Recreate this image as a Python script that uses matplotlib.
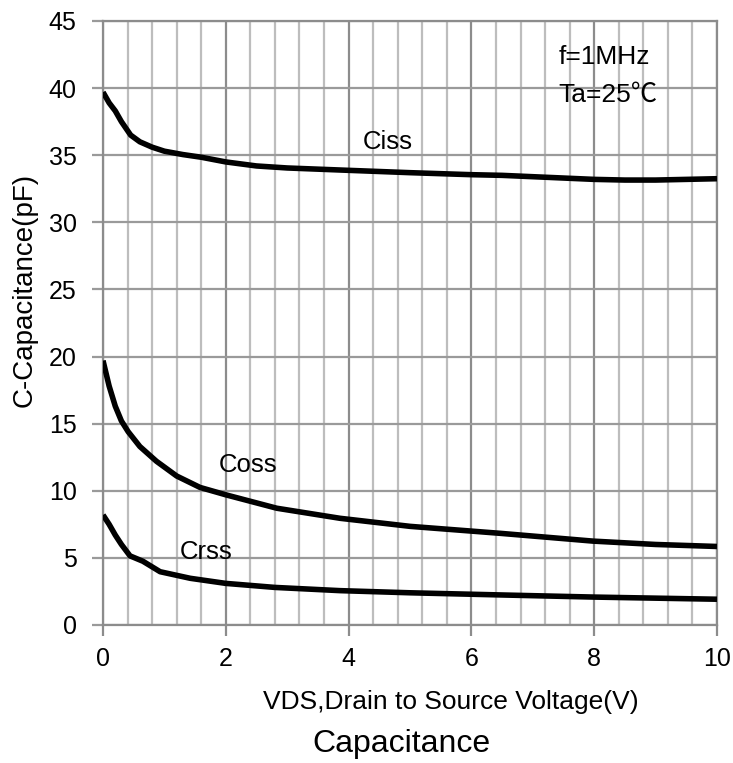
import matplotlib
matplotlib.use("Agg")
import matplotlib.pyplot as plt
import numpy as np

plt.rcParams['font.family'] = ['Liberation Sans', 'DejaVu Sans']

ciss_x = [0, 0.1, 0.2, 0.3, 0.45, 0.6, 0.8, 1.0, 1.3, 1.6, 2.0, 2.5, 3.0, 3.85, 5.0, 6.0, 6.5, 7.0, 8.0, 8.5, 9.0, 10.0]
ciss_y = [39.7, 38.9, 38.3, 37.5, 36.5, 36.0, 35.6, 35.3, 35.05, 34.85, 34.5, 34.2, 34.05, 33.9, 33.7, 33.55, 33.5, 33.4, 33.2, 33.15, 33.15, 33.25]

coss_x = [0, 0.1, 0.2, 0.3, 0.41, 0.6, 0.87, 1.2, 1.58, 2.0, 2.83, 3.86, 5.0, 6.47, 7.98, 9.0, 10.0]
coss_y = [19.7, 17.8, 16.3, 15.2, 14.4, 13.3, 12.2, 11.1, 10.25, 9.7, 8.7, 7.95, 7.35, 6.83, 6.25, 6.0, 5.85]

crss_x = [0, 0.1, 0.2, 0.3, 0.44, 0.65, 0.93, 1.42, 2.0, 2.8, 3.86, 5.0, 6.47, 8.0, 10.0]
crss_y = [8.2, 7.5, 6.7, 6.0, 5.15, 4.75, 3.97, 3.48, 3.1, 2.8, 2.56, 2.4, 2.24, 2.08, 1.92]

labels = [("Ciss", 4.63, 36.0), ("Coss", 2.36, 11.92), ("Crss", 1.68, 5.46)]

fig = plt.figure(figsize=(7.33, 7.63), dpi=100)
ax = fig.add_axes([103/733, 1 - 625/763, (717-103)/733, (625-21)/763])

ax.set_xlim(0, 10)
ax.set_ylim(0, 45)

# gridlines
for xv in np.arange(0, 10.001, 0.4):
    major = abs(xv/2 - round(xv/2)) < 1e-6
    ax.axvline(xv, color='#8c8c8c' if major else '#bdbdbd', lw=1.6, zorder=1)
for yv in np.arange(0, 45.001, 5):
    ax.axhline(yv, color='#9a9a9a', lw=1.6, zorder=1)

for s in ax.spines.values():
    s.set_color('#8c8c8c')
    s.set_linewidth(1.6)

ax.set_xticks(np.arange(0, 11, 2))
ax.set_yticks(np.arange(0, 46, 5))
ax.tick_params(axis='x', length=8, width=1.6, color='#8c8c8c', labelsize=18, pad=8)
ax.tick_params(axis='y', length=8, width=1.6, color='#9a9a9a', labelsize=18, pad=11)

for xs, ys in [(ciss_x, ciss_y), (coss_x, coss_y), (crss_x, crss_y)]:
    ax.plot(xs, ys, color='black', lw=4.0, solid_capstyle='butt', zorder=3)

for t, xv, yv in labels:
    ax.text(xv, yv, t, fontsize=18.5, ha='center', va='center', zorder=4)

ax.text(7.42, 42.3, "f=1MHz", fontsize=19, ha='left', va='center')
ax.text(7.42, 39.5, "Ta=25℃", fontsize=19, ha='left', va='center', family=['Liberation Sans', 'Noto Sans CJK SC', 'DejaVu Sans'])

fig.text(451/733, 1 - 702/763, "VDS,Drain to Source Voltage(V)", fontsize=19, ha='center', va='center')
fig.text(401/733, 1 - 744/763, "Capacitance", fontsize=23, ha='center', va='center')
fig.text(25/733, 1 - 290/763, "C-Capacitance(pF)", fontsize=20, ha='center', va='center', rotation=90)

fig.savefig("out.png", dpi=100)
